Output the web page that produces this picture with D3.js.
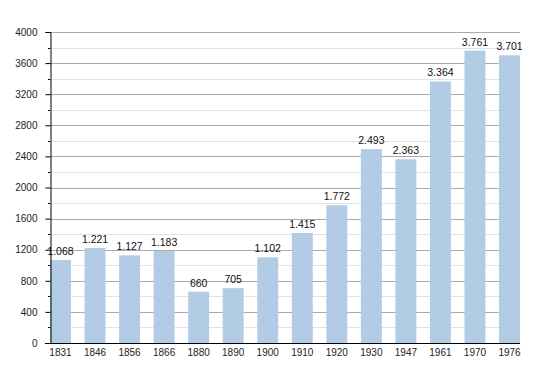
<!DOCTYPE html>
<html>
<head>
<meta charset="utf-8">
<script src="https://cdn.jsdelivr.net/npm/d3@7"></script>
<style>
  body { margin: 0; background: #fff; }
  text { font-family: "Liberation Sans", Arial, sans-serif; }
</style>
</head>
<body>
<svg id="chart"></svg>
<script>
// data
var years = ["1831", "1846", "1856", "1866", "1880", "1890", "1900", "1910", "1920", "1930", "1947", "1961", "1970", "1976"];
var population = [1068, 1221, 1127, 1183, 660, 705, 1102, 1415, 1772, 2493, 2363, 3364, 3761, 3701];
var yMajor = [0, 400, 800, 1200, 1600, 2000, 2400, 2800, 3200, 3600, 4000];

var svgWidth = 550, svgHeight = 373;
var plotLeft = 50, plotRight = 520, plotTop = 32, plotBottom = 343;

var svg = d3.select("#chart")
  .attr("width", svgWidth)
  .attr("height", svgHeight);

var xScale = d3.scaleBand()
  .domain(years)
  .range([plotLeft, plotRight])
  .paddingInner(0.393)
  .paddingOuter(0);

var yScale = d3.scaleLinear()
  .domain([0, 4000])
  .range([plotBottom, plotTop]);

var yMinor = d3.range(200, 4000, 400);

// grid lines
svg.append("g").selectAll("line")
  .data(yMinor)
  .enter()
  .append("line")
  .attr("x1", plotLeft).attr("x2", plotRight)
  .attr("y1", function(d) { return Math.round(yScale(d)) + 0.5; })
  .attr("y2", function(d) { return Math.round(yScale(d)) + 0.5; })
  .attr("stroke", "#e2e2e2");

svg.append("g").selectAll("line")
  .data(yMajor.slice(1))
  .enter()
  .append("line")
  .attr("x1", plotLeft).attr("x2", plotRight)
  .attr("y1", function(d) { return Math.round(yScale(d)) + 0.5; })
  .attr("y2", function(d) { return Math.round(yScale(d)) + 0.5; })
  .attr("stroke", "#aaaaaa");

// bars
svg.append("g").selectAll("rect")
  .data(population)
  .enter()
  .append("rect")
  .attr("x", function(d, i) { return xScale(years[i]); })
  .attr("width", xScale.bandwidth())
  .attr("y", function(d) { return yScale(d); })
  .attr("height", function(d) { return plotBottom - yScale(d); })
  .attr("fill", "#b3cce5");

// value labels
var fmt = function(d) { return d3.format(",")(d).replace(/,/g, "."); };
svg.append("g").selectAll("text")
  .data(population)
  .enter()
  .append("text")
  .text(fmt)
  .attr("x", function(d, i) { return xScale(years[i]) + xScale.bandwidth() / 2; })
  .attr("y", function(d) { return yScale(d) - 5; })
  .attr("text-anchor", "middle")
  .attr("font-size", "10.5px")
  .attr("fill", "#111");

// y axis
var y_axis = d3.axisLeft(yScale)
  .tickValues(yMajor)
  .tickSize(5)
  .tickPadding(8)
  .tickFormat(function(d) { return d; });

var gy = svg.append("g")
  .attr("transform", "translate(" + (plotLeft + 0.5) + ",0)")
  .call(y_axis);
gy.select(".domain").attr("stroke", "#000");
gy.selectAll(".tick text").attr("font-size", "10px").attr("fill", "#222")
  .attr("font-family", "'Liberation Sans', Arial, sans-serif");

svg.append("g").selectAll("line")
  .data(yMinor)
  .enter()
  .append("line")
  .attr("x1", plotLeft - 2).attr("x2", plotLeft)
  .attr("y1", function(d) { return Math.round(yScale(d)) + 0.5; })
  .attr("y2", function(d) { return Math.round(yScale(d)) + 0.5; })
  .attr("stroke", "#000");

// x axis
var x_axis = d3.axisBottom(xScale).tickSize(0).tickPadding(5);
var gx = svg.append("g")
  .attr("transform", "translate(0," + (plotBottom + 0.5) + ")")
  .call(x_axis);
gx.select(".domain").attr("stroke", "#000").attr("d", "M" + (plotLeft - 5) + ",0H" + plotRight);
gx.selectAll(".tick text").attr("font-size", "10px").attr("fill", "#222")
  .attr("font-family", "'Liberation Sans', Arial, sans-serif");
</script>
</body>
</html>
